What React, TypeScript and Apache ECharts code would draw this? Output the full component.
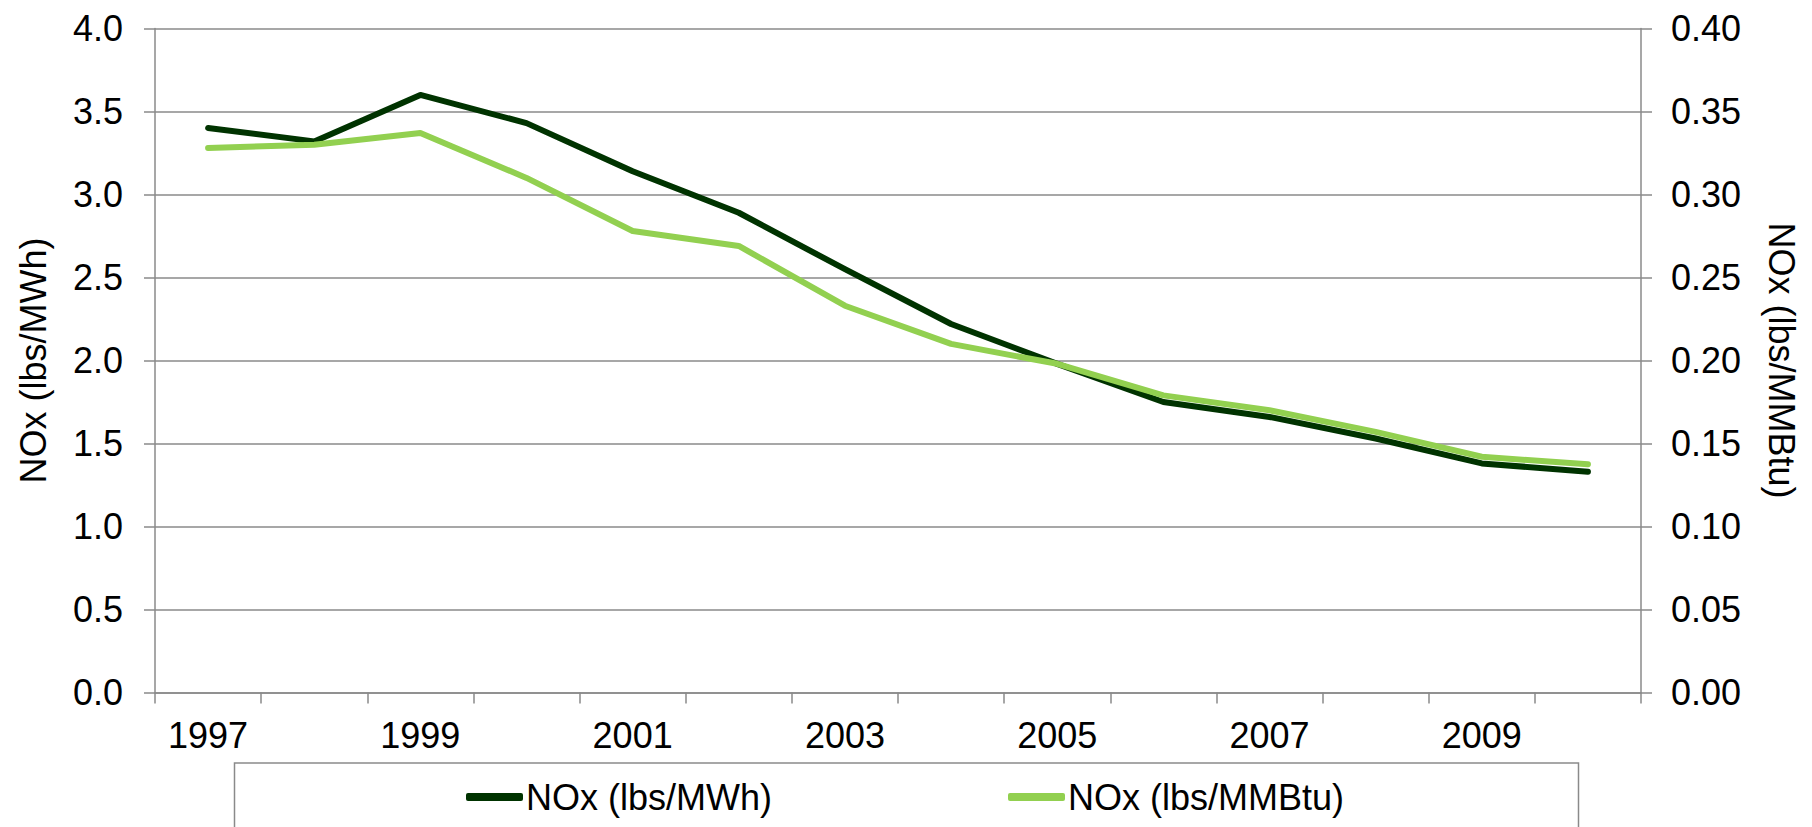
import React, { useEffect, useRef } from "react";
import * as echarts from "echarts";

const years = ["1997","1998","1999","2000","2001","2002","2003","2004","2005","2006","2007","2008","2009","2010"];
const noxMWh = [3.40, 3.32, 3.60, 3.43, 3.14, 2.89, 2.55, 2.22, 1.98, 1.75, 1.66, 1.53, 1.38, 1.33];
const noxMMBtu = [0.328, 0.330, 0.337, 0.310, 0.278, 0.269, 0.233, 0.210, 0.198, 0.179, 0.170, 0.157, 0.142, 0.1375];
const nameMWh = "NOx (lbs/MWh)";
const nameMMBtu = "NOx (lbs/MMBtu)";

const FONT = "'Liberation Sans', Arial, sans-serif";
const GRID_COLOR = "#8a8a8a";
const DARK = "#003300";
const LIGHT = "#92D050";

export default function App() {
  const ref = useRef<HTMLDivElement>(null);
  useEffect(() => {
    if (!ref.current) return;
    const chart = echarts.init(ref.current, undefined, { renderer: "svg" });
    const axisLine = { show: true, lineStyle: { color: GRID_COLOR, width: 1.5 } };
    const axisTick = { show: true, inside: false, length: 11, lineStyle: { color: GRID_COLOR, width: 1.5 } };
    const labelStyle = { color: "#000", fontFamily: FONT, fontSize: 36 };
    const legendCommon = {
      top: 774,
      icon: "roundRect",
      itemWidth: 57,
      itemHeight: 8,
      padding: 5,
      textStyle: { ...labelStyle, padding: [0, 0, 0, -2] },
      selectedMode: false,
    };
    chart.setOption({
      animation: false,
      backgroundColor: "#fff",
      grid: { left: 155, right: 171, top: 28.5, bottom: 134.5, containLabel: false },
      xAxis: {
        type: "category",
        data: years,
        boundaryGap: true,
        axisLine,
        axisTick: { ...axisTick, interval: 0, alignWithLabel: false },
        axisLabel: { ...labelStyle, interval: 1, margin: 25 },
        splitLine: { show: false },
      },
      yAxis: [
        {
          type: "value",
          min: 0,
          max: 4,
          interval: 0.5,
          position: "left",
          name: nameMWh,
          nameLocation: "middle",
          nameRotate: 90,
          nameGap: 104,
          nameTextStyle: { ...labelStyle },
          axisLine,
          axisTick,
          axisLabel: { ...labelStyle, margin: 32, formatter: (v: number) => v.toFixed(1) },
          splitLine: { show: true, lineStyle: { color: GRID_COLOR, width: 1.5 } },
        },
        {
          type: "value",
          min: 0,
          max: 0.4,
          interval: 0.05,
          position: "right",
          name: nameMMBtu,
          nameLocation: "middle",
          nameRotate: -90,
          nameGap: 122,
          nameTextStyle: { ...labelStyle },
          axisLine,
          axisTick,
          axisLabel: { ...labelStyle, margin: 30, formatter: (v: number) => v.toFixed(2) },
          splitLine: { show: false },
        },
      ],
      legend: [
        { ...legendCommon, data: [nameMWh], left: 461 },
        { ...legendCommon, data: [nameMMBtu], left: 1003 },
      ],
      graphic: [
        {
          type: "rect",
          shape: { x: 234.5, y: 763, width: 1344, height: 80 },
          style: { fill: "none", stroke: GRID_COLOR, lineWidth: 1.5 },
          z: -1,
        },
      ],
      series: [
        {
          name: nameMWh,
          type: "line",
          data: noxMWh,
          yAxisIndex: 0,
          showSymbol: false,
          symbol: "none",
          lineStyle: { color: DARK, width: 6, cap: "round", join: "round" },
          itemStyle: { color: DARK },
          z: 2,
        },
        {
          name: nameMMBtu,
          type: "line",
          data: noxMMBtu,
          yAxisIndex: 1,
          showSymbol: false,
          symbol: "none",
          lineStyle: { color: LIGHT, width: 6, cap: "round", join: "round" },
          itemStyle: { color: LIGHT },
          z: 3,
        },
      ],
    });
    return () => chart.dispose();
  }, []);
  return (
    <div
      ref={ref}
      style={{ position: "fixed", left: 0, top: 0, width: 1812, height: 827, background: "#fff" }}
    />
  );
}
